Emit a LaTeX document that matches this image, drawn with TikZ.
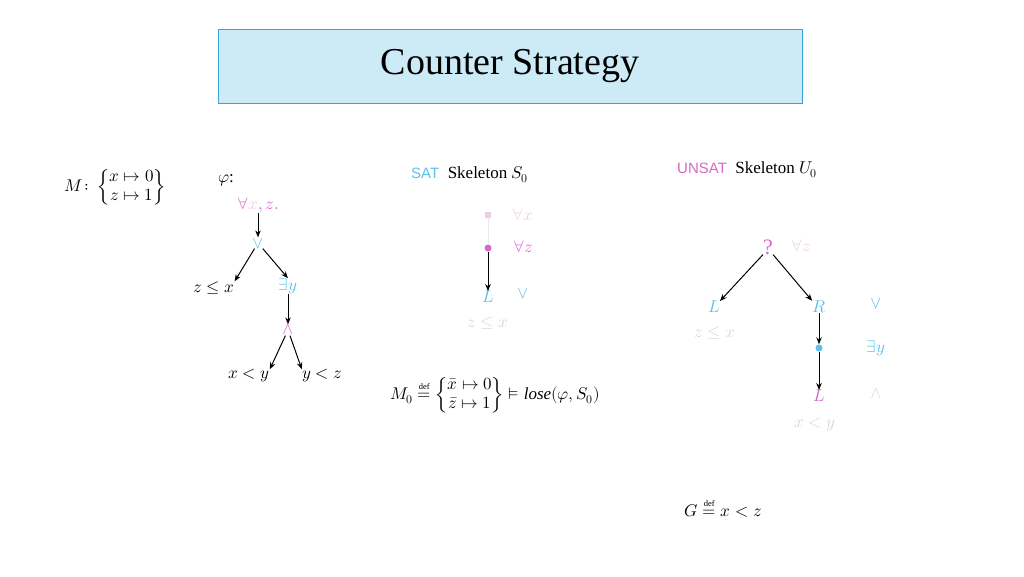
\documentclass[tikz,border=0pt]{standalone}
\usepackage{amsmath}
\usepackage{fontspec}
\usepackage{unicode-math}
\usetikzlibrary{arrows.meta}
\setmainfont{Liberation Serif}
\setmathfont{Latin Modern Math}
\newfontfamily\sansf{Liberation Sans}
\definecolor{pk}{HTML}{D966C8}
\definecolor{bl}{HTML}{5BC0EB}
\definecolor{lpk}{HTML}{EBCDE5}
\definecolor{gr}{HTML}{D6D6D6}
\definecolor{tfill}{HTML}{CDEBF7}
\definecolor{tline}{HTML}{3BA3D8}
\begin{document}
\begin{tikzpicture}[x=1pt,y=-1pt,
  t/.style={inner sep=0pt,font=\fontsize{17}{19}\selectfont},
  arr/.style={-{Stealth[length=7pt,width=5.5pt]},line width=1pt},
  dotn/.style={circle,fill=#1,inner sep=0pt,minimum size=7pt}]
\useasboundingbox (0,0) rectangle (1024,576);
\node[draw=tline,fill=tfill,line width=1pt,minimum width=584,minimum height=74,font=\fontsize{38}{42}\selectfont] (title) at (510,66) {Counter Strategy};
% M
\node[t,anchor=west] (M) at (64,187) {$M\colon\left\{\begin{matrix}x\mapsto 0\\ z\mapsto 1\end{matrix}\right\}$};
% phi tree
\node[t] (phi) at (226,180) {$\varphi$:};
\node[t] (fa) at (258,205) {\textcolor{pk}{$\forall$}\textcolor{lpk}{$x$}\textcolor{pk}{$,z.$}};
\node[t,text=bl] (or) at (258,243) {$\vee$};
\node[t] (zx) at (214,288) {$z\le x$};
\node[t,text=bl] (ey) at (288,286) {$\exists y$};
\node[t,text=pk] (and) at (288,330) {$\wedge$};
\node[t] (xy) at (249,376) {$x<y$};
\node[t] (yz) at (322,376) {$y<z$};
\draw[arr] (fa) -- (or);
\draw[arr] (or) -- (zx.north east);
\draw[arr] (or) -- (ey.north);
\draw[arr] (ey) -- (and);
\draw[arr] (and) -- (xy.north east);
\draw[arr] (and) -- (yz.north west);
% SAT
\node[t,anchor=west] (sat) at (411,175) {\textcolor{bl}{\sansf\fontsize{15}{17}\selectfont SAT}\ \ Skeleton $S_0$};
\node[fill=lpk,inner sep=0pt,minimum size=6pt] (d1) at (488,215) {};
\node[t,text=lpk] at (523,215) {$\forall x$};
\node[dotn=pk] (d2) at (488,248) {};
\node[t,text=pk] at (523,247) {$\forall z$};
\draw[gr!60,line width=1pt] (d1) -- (d2);
\node[t,text=bl] (L1) at (488,297) {$L$};
\node[t,text=bl] at (523,293) {$\vee$};
\node[t,text=gr] at (488,323) {$z\le x$};
\draw[arr] (d2) -- (L1);
\node[t] (m0) at (495,395) {$M_0\overset{\scriptscriptstyle\mathrm{def}}{=}\left\{\begin{matrix}\bar x\mapsto 0\\ \bar z\mapsto 1\end{matrix}\right\}\vDash \mathit{lose}(\varphi,S_0)$};
% UNSAT
\node[t,anchor=west] (unsat) at (677,170) {\textcolor{pk}{\sansf\fontsize{15}{17}\selectfont UNSAT}\ \ Skeleton $U_0$};
\node[t,text=pk,font=\fontsize{22}{24}\selectfont] (q) at (768,247) {?};
\node[t,text=lpk] at (801,246) {$\forall z$};
\node[t,text=bl] (L2) at (714,307) {$L$};
\node[t,text=bl] (R) at (819,307) {$R$};
\node[t,text=bl] at (876,303) {$\vee$};
\node[t,text=gr] at (715,333) {$z\le x$};
\node[dotn=bl] (d3) at (819,348) {};
\node[t,text=bl] at (876,348) {$\exists y$};
\node[t,text=pk] (L3) at (819,396) {$L$};
\node[t,text=lpk] at (876,394) {$\wedge$};
\node[t,text=gr] at (815,425) {$x<y$};
\draw[arr] (q.south west) -- (L2.north east);
\draw[arr] (q.south east) -- (R.north west);
\draw[arr] (R) -- (d3);
\draw[arr] (d3) -- (L3);
\node[t] (G) at (723,508) {$G\overset{\scriptscriptstyle\mathrm{def}}{=}x<z$};
\end{tikzpicture}
\end{document}
